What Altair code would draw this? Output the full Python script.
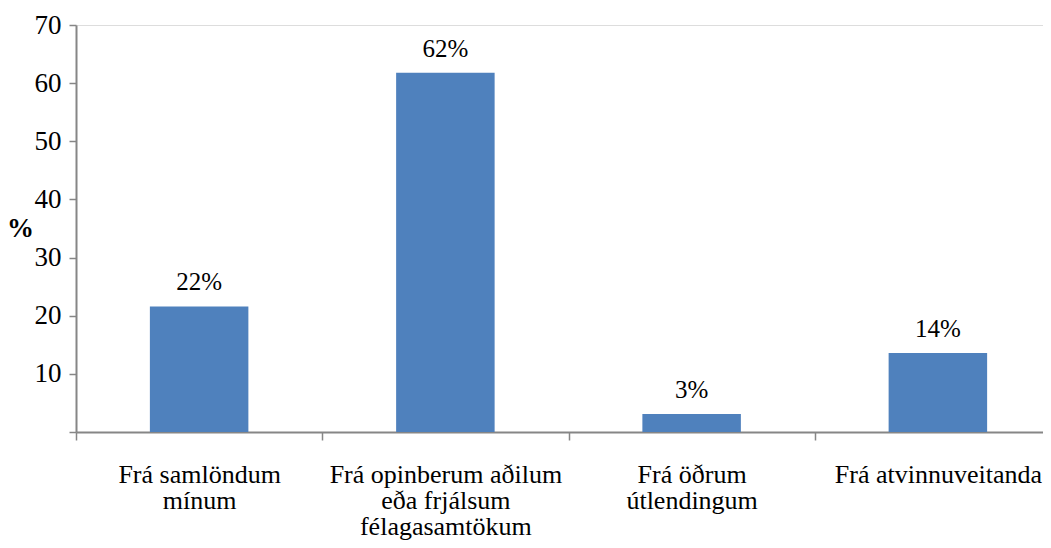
import altair as alt
import pandas as pd

categories = [
    "Frá samlöndum\nmínum",
    "Frá opinberum aðilum\neða frjálsum\nfélagasamtökum",
    "Frá öðrum\nútlendingum",
    "Frá atvinnuveitanda",
]
values = [21.6, 61.8, 3.1, 13.6]

df = pd.DataFrame({"cat": categories, "val": values})
df["lbl"] = [f"{round(v)}%" for v in values]

FONT = "Times New Roman, Liberation Serif, DejaVu Serif, serif"
AXIS_GREY = "#868686"

x_enc = alt.X(
    "cat:N",
    sort=categories,
    scale=alt.Scale(paddingInner=0, paddingOuter=0),
    axis=alt.Axis(
        title=None,
        labelAngle=0,
        labelExpr="split(datum.label, '\\n')",
        labelFont=FONT,
        labelFontSize=26,
        labelColor="black",
        labelLineHeight=26,
        labelLimit=0,
        labelPadding=21.5,
        labelBaseline="top",
        tickBand="extent",
        tickSize=8,
        tickColor=AXIS_GREY,
        tickWidth=1.5,
        domainColor=AXIS_GREY,
        domainWidth=2,
        grid=False,
    ),
)

y_enc = alt.Y(
    "val:Q",
    scale=alt.Scale(domain=[0, 70], nice=False),
    axis=alt.Axis(
        title="%",
        titleAngle=0,
        titleFont=FONT,
        titleFontSize=27,
        titleFontWeight="bold",
        titleColor="black",
        titleAlign="center",
        titleBaseline="middle",
        titleX=-56,
        titleY=203,
        values=[0, 10, 20, 30, 40, 50, 60, 70],
        labelExpr="datum.value == 0 ? '' : datum.label",
        labelFont=FONT,
        labelFontSize=27,
        labelColor="black",
        labelPadding=8,
        tickSize=7,
        tickColor=AXIS_GREY,
        tickWidth=1.5,
        domainColor=AXIS_GREY,
        domainWidth=2,
        grid=False,
    ),
)

bars = alt.Chart(df).mark_bar(color="#4F81BD", width={"band": 0.4}).encode(
    x=x_enc, y=y_enc
)

labels = alt.Chart(df).mark_text(
    font=FONT, fontSize=25, color="black", baseline="alphabetic", dy=-16
).encode(x=alt.X("cat:N", sort=categories), y=alt.Y("val:Q"), text="lbl:N")

chart = (
    alt.layer(bars, labels)
    .properties(
        width=985,
        height=407,
        autosize=alt.AutoSizeParams(type="none"),
        padding={"left": 68, "top": 17, "right": -18, "bottom": 108},
    )
    .configure_view(stroke=None)
    .configure(background="white")
)

chart.save("out.html", embed_options={"renderer": "svg", "actions": False})
